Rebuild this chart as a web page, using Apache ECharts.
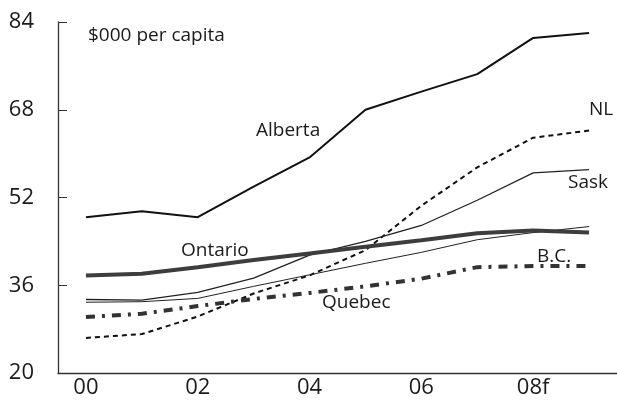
<!DOCTYPE html>
<html>
<head>
<meta charset="utf-8">
<script src="https://cdn.jsdelivr.net/npm/echarts@6/dist/echarts.min.js"></script>
<style>html,body{margin:0;padding:0;background:#fff}#c{width:617px;height:405px}</style>
</head>
<body>
<div id="c"></div>
<script>
var categories = ['00','01','02','03','04','05','06','07','08f','09f'];
var yTicks = [20, 36, 52, 68, 84];
var alberta = [48.4, 49.5, 48.4, 54.0, 59.3, 68.0, 71.3, 74.5, 81.1, 82.0];
var nl      = [26.4, 27.1, 30.3, 34.5, 37.8, 42.4, 50.5, 57.5, 62.9, 64.2];
var sask    = [33.4, 33.3, 34.7, 37.3, 41.5, 44.0, 46.9, 51.5, 56.5, 57.1];
var ontario = [37.8, 38.1, 39.3, 40.6, 41.8, 43.0, 44.2, 45.5, 46.0, 45.6];
var bc      = [32.9, 33.0, 33.6, 35.8, 37.9, 40.0, 42.0, 44.3, 45.6, 46.7];
var quebec  = [30.2, 30.8, 32.2, 33.5, 34.6, 35.8, 37.2, 39.3, 39.5, 39.5];
var unitLabel = '$000 per capita';

var FONT = 'Open Sans';
var chart = echarts.init(document.getElementById('c'), null, {renderer: 'canvas'});
function s(name, data, style) {
  return {name: name, type: 'line', data: data, symbol: 'none', silent: true,
          lineStyle: style, animation: false};
}
function txt(x, y, t) {
  return {type: 'text', x: x, y: y, silent: true,
          style: {text: t, fill: '#1a1a1a', font: '19px "' + FONT + '"', verticalAlign: 'middle'}};
}
chart.setOption({
  animation: false,
  backgroundColor: '#fff',
  grid: {left: 58, right: -7, top: 22, bottom: 32},
  xAxis: {
    type: 'category', data: categories, boundaryGap: true,
    axisLine: {lineStyle: {color: '#333', width: 1.3}},
    axisTick: {inside: true, length: 8, interval: 0, lineStyle: {color: '#333'}},
    axisLabel: {interval: 1, fontSize: 22, color: '#1a1a1a', fontFamily: FONT, margin: 4}
  },
  yAxis: {
    type: 'value', min: yTicks[0], max: yTicks[yTicks.length - 1], interval: 16,
    axisLine: {show: true, lineStyle: {color: '#333', width: 1.3}},
    axisTick: {show: true, inside: true, length: 9, lineStyle: {color: '#333'}},
    splitLine: {show: false},
    axisLabel: {fontSize: 22, color: '#1a1a1a', fontFamily: FONT, margin: 24}
  },
  series: [
    s('Alberta', alberta, {color: '#111', width: 2}),
    s('NL', nl, {color: '#111', width: 2, type: [5, 4]}),
    s('Sask', sask, {color: '#222', width: 1.3}),
    s('B.C.', bc, {color: '#222', width: 1}),
    s('Ontario', ontario, {color: '#3d3d3d', width: 4}),
    s('Quebec', quebec, {color: '#333', width: 4, type: [9, 7, 3, 7]})
  ],
  graphic: [
    txt(88, 36, unitLabel),
    txt(256, 131, 'Alberta'),
    txt(589, 110, 'NL'),
    txt(568, 183, 'Sask'),
    txt(181, 251, 'Ontario'),
    txt(537, 257, 'B.C.'),
    txt(322, 303, 'Quebec')
  ]
});
</script>
</body>
</html>
